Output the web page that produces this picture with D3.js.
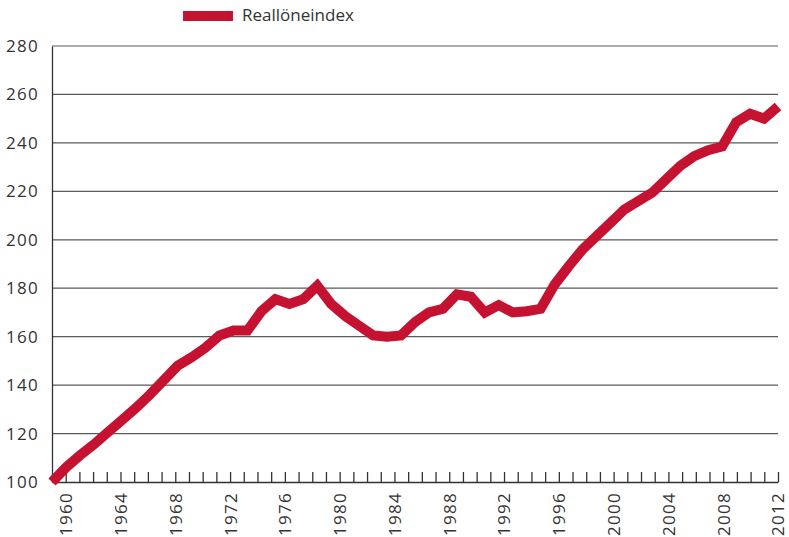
<!DOCTYPE html>
<html>
<head>
<meta charset="utf-8">
<script src="https://cdn.jsdelivr.net/npm/d3@7"></script>
<style>
  html, body { margin: 0; padding: 0; background: #fff; }
  svg { display: block; }
</style>
</head>
<body>
<svg id="chart"></svg>
<script>
// Data
const years = d3.range(1960, 2013);
const realWageIndex = [
  100, 106, 111, 115.5, 120.5, 125.5, 130.5, 136, 142, 148,
  151.5, 155.5, 160.5, 162.5, 162.5, 170.5, 175.5, 173.5, 175.5, 181,
  173.5, 168.5, 164.5, 160.5, 160, 160.5, 166, 170, 171.5, 177.5,
  176.5, 170, 173, 170, 170.5, 171.5, 181.5, 189, 196, 201.5,
  207, 212.5, 216, 219.5, 225, 230.5, 234.5, 237, 238.5, 248.5,
  252, 250, 255
];
const yTicks = [100, 120, 140, 160, 180, 200, 220, 240, 260, 280];
const seriesName = "Reallöneindex";

const W = 789, H = 537;
const m = { left: 52, right: 778, top: 46, bottom: 482 };
const FONT = "'Open Sans', sans-serif";
const RED = "#c41230";

const svg = d3.select("#chart").attr("width", W).attr("height", H);

// Scales
const x = d3.scaleLinear().domain([1960, 2012]).range([m.left, m.right]);
const xTick = d3.scaleLinear().domain([1959, 2012]).range([m.left, m.right]);
const y = d3.scaleLinear().domain([100, 280]).range([m.bottom, m.top]);

// Grid
svg.append("g").selectAll("line")
  .data(yTicks.filter(d => d > 100)).join("line")
  .attr("x1", m.left).attr("x2", m.right)
  .attr("y1", d => y(d)).attr("y2", d => y(d))
  .attr("stroke", "#5a5a5a").attr("stroke-width", 1.2);

// Y axis
svg.append("g")
  .attr("transform", `translate(${m.left},0)`)
  .call(d3.axisLeft(y).tickValues(yTicks).tickSize(0).tickPadding(13))
  .call(ax => {
    ax.select(".domain").attr("stroke", "#333").attr("stroke-width", 1.3);
    ax.selectAll(".tick text")
      .style("fill", "#333").style("font-size", "17px")
      .style("letter-spacing", "1.3px").style("font-family", FONT);
  });

// X axis (ticks point up into the plot)
svg.append("g")
  .attr("transform", `translate(0,${m.bottom})`)
  .call(d3.axisBottom(xTick).tickValues(years).tickSizeInner(-10).tickSizeOuter(0)
    .tickFormat(d => d % 4 === 0 ? String(d) : ""))
  .call(ax => {
    ax.select(".domain").attr("stroke", "#333").attr("stroke-width", 1.3);
    ax.selectAll(".tick line").attr("stroke", "#333").attr("stroke-width", 1.3);
    ax.selectAll(".tick text")
      .attr("transform", "rotate(-90)")
      .attr("x", -10).attr("y", 0).attr("dy", "0.35em")
      .attr("text-anchor", "end")
      .style("fill", "#333").style("font-size", "17px")
      .style("letter-spacing", "1.3px").style("font-family", FONT);
  });

// Line
svg.append("path").datum(realWageIndex)
  .attr("d", d3.line().x((d, i) => x(years[i])).y(d => y(d)))
  .attr("fill", "none")
  .attr("stroke", RED)
  .attr("stroke-width", 10)
  .attr("stroke-linejoin", "miter");

// Legend
const leg = svg.append("g").attr("transform", "translate(183,11)");
leg.append("rect").attr("width", 50).attr("height", 10).attr("fill", RED);
leg.append("text")
  .attr("x", 59).attr("y", 10)
  .style("fill", "#333").style("font-size", "17px").style("font-family", FONT)
  .text(seriesName);
</script>
</body>
</html>
